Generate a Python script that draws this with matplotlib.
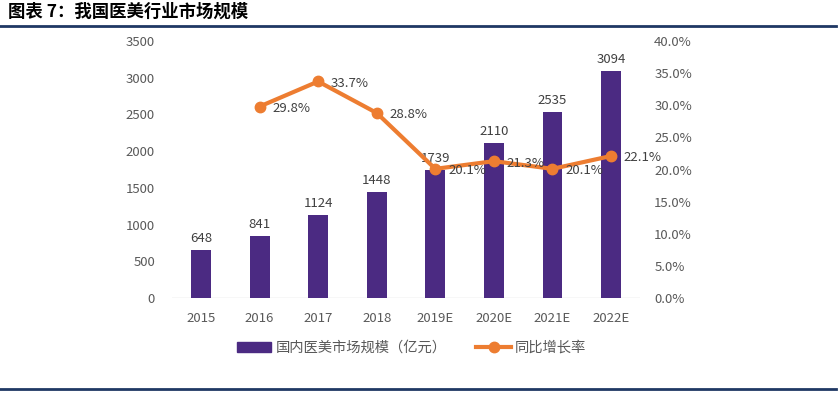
import numpy as np
import matplotlib
matplotlib.use('Agg')
import matplotlib.pyplot as plt
from matplotlib.lines import Line2D

plt.rcParams['font.family'] = ['Noto Sans CJK SC', 'DejaVu Sans']

years = ['2015', '2016', '2017', '2018', '2019E', '2020E', '2021E', '2022E']
market = [648, 841, 1124, 1448, 1739, 2110, 2535, 3094]
growth_years = ['2016', '2017', '2018', '2019E', '2020E', '2021E', '2022E']
growth = [29.8, 33.7, 28.8, 20.1, 21.3, 20.1, 22.1]

bar_color = '#4b2a82'
line_color = '#ed7d31'
text_color = '#595959'

fig = plt.figure(figsize=(8.4, 3.93), dpi=100)
ax = fig.add_axes([0.2044, 0.2417, 0.5579, 0.654])
ax2 = ax.twinx()

x = np.arange(len(years))
ax.bar(x, market, width=0.34, color=bar_color, zorder=2)
for xi, v in zip(x, market):
    ax.text(xi, v + 70, str(v), ha='center', va='bottom', fontsize=9.5, color='#404040')

gx = [years.index(y) for y in growth_years]
ax2.plot(gx, growth, color=line_color, lw=3, marker='o', ms=7.5, zorder=3)
for xi, v in zip(gx, growth):
    ax2.text(xi + 0.22, v - 0.3, '%.1f%%' % v, ha='left', va='center', fontsize=9.5, color='#404040')

ax.set_xlim(-0.5, len(years) - 0.5)
ax.set_ylim(0, 3500)
ax.set_yticks(np.arange(0, 3501, 500))
ax2.set_ylim(0, 40)
ax2.set_yticks(np.arange(0, 40.1, 5))
ax2.set_yticklabels(['%.1f%%' % t for t in np.arange(0, 40.1, 5)])
ax.set_xticks(x)
ax.set_xticklabels(years)

for a in (ax, ax2):
    for s in ('top', 'left', 'right', 'bottom'):
        a.spines[s].set_visible(False)
    a.tick_params(length=0, labelsize=9.5, colors=text_color)
ax.axhline(0, color='#d9d9d9', lw=1, zorder=1)
ax.tick_params(axis='y', pad=12)
ax2.tick_params(axis='y', pad=10)
ax.tick_params(axis='x', pad=10)

handles = [plt.Rectangle((0, 0), 1, 1, color=bar_color),
           Line2D([0], [0], color=line_color, lw=3, marker='o', ms=7.5)]
fig.legend(handles, ['国内医美市场规模（亿元）', '同比增长率'], loc='center',
           bbox_to_anchor=(0.49, 0.1145), ncol=2, frameon=False, fontsize=10.3,
           labelcolor=text_color, handlelength=2.4, handletextpad=0.3,
           columnspacing=2.1)

fig.text(0.009, 0.97, '图表 7：我国医美行业市场规模', fontsize=12.5, fontweight='bold',
         ha='left', va='center', color='black')
fig.add_artist(Line2D([0.0, 0.995], [0.935, 0.935], color='#1f3864', lw=2))
fig.add_artist(Line2D([0.0, 0.995], [0.01, 0.01], color='#1f3864', lw=2))

fig.savefig('out.png', dpi=100)
